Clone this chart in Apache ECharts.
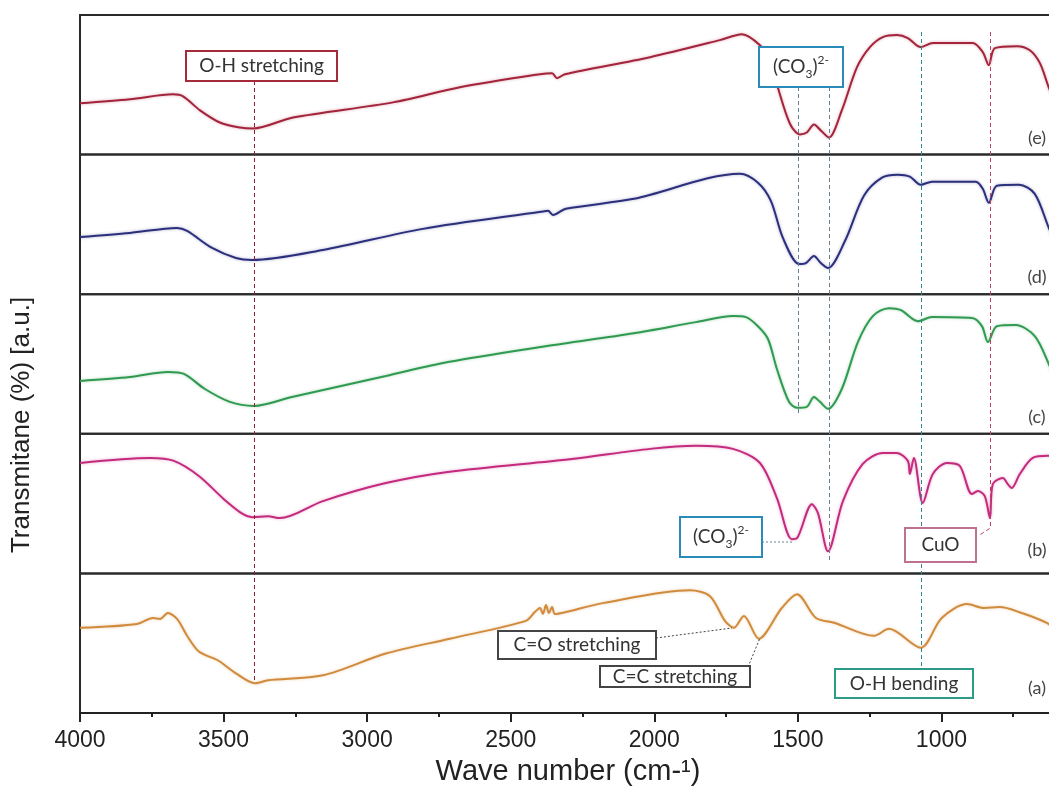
<!DOCTYPE html>
<html>
<head>
<meta charset="utf-8">
<script src="https://cdn.jsdelivr.net/npm/echarts@6/dist/echarts.min.js"></script>
<style>
  html, body { margin: 0; padding: 0; background: #fff; }
  #chart { width: 1049px; height: 803px; }
</style>
</head>
<body>
<div id="chart"></div>
<script>
// FTIR spectra, [wavenumber (cm-1), transmittance in panel units 0..100]
const specE = [[4000,36.7],[3826,39.6],[3676,43.2],[3641,41.7],[3582,31.7],[3513,23],[3443,19.4],[3398,18.7],[3258,26.6],[2910,37.4],[2677,48.2],[2398,57.6],[2356,58.3],[2339,54.7],[2311,57.6],[2015,69.8],[1772,82],[1695,86.3],[1632,78.4],[1597,67.6],[1570,48.2],[1528,22.3],[1493,14.4],[1469,15.8],[1444,21.6],[1420,17.3],[1392,12.2],[1347,31.7],[1294,62.6],[1249,77],[1204,84.2],[1155,85.6],[1117,83.5],[1072,77],[1030,79.9],[891,79.9],[856,73.4],[835,64],[814,76.3],[737,77.7],[692,74.8],[657,65.5],[626,48],[595,33]];
const specD = [[4000,41],[3826,43.9],[3662,47.5],[3627,45.3],[3540,33.1],[3457,25.9],[3401,24.5],[3154,31.7],[2806,46.8],[2395,59],[2370,59.7],[2353,56.8],[2308,61.2],[2071,68.3],[1702,86.3],[1639,79.9],[1594,66.9],[1552,40.3],[1496,21.6],[1472,22.3],[1444,27.3],[1420,22.3],[1395,18.7],[1336,38.1],[1270,70.5],[1207,83.5],[1152,85.6],[1110,84.2],[1072,78.4],[1033,80.6],[880,80.6],[856,75.5],[835,65.5],[807,77.7],[730,78.4],[675,71.9],[626,47.5],[605,38]];
const specC = [[4000,37.9],[3826,40.7],[3694,44.3],[3638,42.9],[3565,32.1],[3478,22.9],[3394,20],[3262,26.4],[2935,41.4],[2719,51.4],[2374,62.9],[2071,72.1],[1855,80],[1726,84.3],[1681,83.6],[1639,77.1],[1604,67.9],[1573,46.4],[1531,22.9],[1503,18.6],[1469,19.3],[1444,26.4],[1423,22.9],[1395,17.9],[1347,32.1],[1291,65.7],[1239,84.3],[1183,90],[1141,88.6],[1082,80.7],[1033,83.6],[894,82.9],[859,77.1],[838,65.7],[807,77.1],[741,77.9],[675,70],[626,50],[605,37.9]];
const specB = [[4000,79.1],[3756,82.7],[3673,80.6],[3586,69.8],[3499,53.2],[3432,42.4],[3401,40.3],[3345,41],[3304,39.6],[3154,51.8],[2935,64.7],[2719,72.7],[2287,82],[2015,89.2],[1855,91.4],[1726,89.2],[1632,79.1],[1573,54],[1521,24.5],[1503,25.2],[1451,49.6],[1430,43.2],[1395,15.8],[1343,51.8],[1274,78.4],[1204,86.3],[1155,86.3],[1117,80.6],[1110,71.2],[1096,82.7],[1065,50.4],[1030,71.2],[981,79.1],[936,77],[894,56.8],[873,59],[849,55.4],[831,39.6],[821,64],[786,68.3],[769,64],[755,61.2],[727,71.2],[682,82.7],[629,84.2],[605,84]];
const specA = [[4000,61],[3801,63.8],[3746,68.1],[3721,67.4],[3694,71.6],[3662,67.4],[3627,55.3],[3586,44],[3519,37.6],[3457,28.4],[3391,21.3],[3345,23.4],[3154,27],[2935,42.6],[2712,53.2],[2447,66],[2416,72.3],[2398,75.2],[2388,70.9],[2377,77.3],[2367,71.6],[2356,75.9],[2346,70.9],[2308,72.3],[2179,78.7],[1876,87.9],[1806,83.7],[1754,66],[1723,61],[1688,69.5],[1636,53.2],[1556,75.2],[1503,85.1],[1437,68.1],[1371,64.5],[1235,55.3],[1183,60.3],[1072,46.8],[999,68.1],[911,78],[852,75.2],[797,75.9],[720,71.6],[633,64.5],[605,60]];

const spectra = [specE, specD, specC, specB, specA];
const panelNames = ['(e)', '(d)', '(c)', '(b)', '(a)'];
const colors = ['#a3243b', '#2c2f7c', '#2f9a50', '#c42a7e', '#d08b3c'];

const chart = echarts.init(document.getElementById('chart'));

const grids = [], xAxes = [], yAxes = [], series = [];
const top0 = 15, panelH = 139.6;
for (let i = 0; i < 5; i++) {
  grids.push({
    left: 80, top: top0 + i * panelH, width: 1005, height: panelH,
    show: true, borderColor: '#2a2a2a', borderWidth: 2,
    outerBoundsMode: 'none'
  });
  const last = i === 4;
  xAxes.push({
    type: 'value', gridIndex: i, min: 500, max: 4000, interval: 500, inverse: true,
    show: last,
    axisLine: { show: true, onZero: false, lineStyle: { color: '#222', width: 2 } },
    axisTick: { show: true, length: 9, lineStyle: { color: '#222', width: 2 } },
    minorTick: { show: true, splitNumber: 2, length: 4, lineStyle: { color: '#222', width: 2 } },
    axisLabel: { show: last, fontSize: 23, color: '#222', margin: 16, fontFamily: 'Liberation Sans',
      formatter: v => String(v) },
    splitLine: { show: false },
    minorSplitLine: { show: false }
  });
  yAxes.push({ type: 'value', gridIndex: i, min: 0, max: 100, show: false, splitLine: { show: false } });
  series.push({
    type: 'line', xAxisIndex: i, yAxisIndex: i, data: spectra[i],
    showSymbol: false, symbol: 'none', silent: true, smooth: 0.3,
    lineStyle: { color: colors[i], width: 2, shadowColor: colors[i] + '66', shadowBlur: 3 }
  });
}

chart.setOption({
  animation: false,
  backgroundColor: '#fff',
  grid: grids,
  xAxis: xAxes,
  yAxis: yAxes,
  series: series
});

// annotations
const xAt = wn => chart.convertToPixel({ xAxisIndex: 4 }, wn);
const font = '19px Lato';
const g = [];

function dash(wn, y1, y2, color) {
  const x = Math.round(xAt(wn)) + 0.5;
  g.push({ type: 'line', z: 90, shape: { x1: x, y1: y1, x2: x, y2: y2 },
    style: { stroke: color, lineWidth: 1, lineDash: [4, 3] } });
}
function box(x1, y1, x2, y2, color, text, rich) {
  g.push({ type: 'rect', z: 100, shape: { x: x1, y: y1, width: x2 - x1, height: y2 - y1 },
    style: { fill: '#fff', stroke: color, lineWidth: 2 } });
  const st = { text: text, x: (x1 + x2) / 2, y: (y1 + y2) / 2, font: font, fill: '#333',
    align: 'center', verticalAlign: 'middle', textAlign: 'center', textVerticalAlign: 'middle' };
  if (rich) { st.rich = rich; }
  g.push({ type: 'text', z: 101, style: st });
}
function connector(points, color) {
  g.push({ type: 'polyline', z: 95, shape: { points: points },
    style: { stroke: color, lineWidth: 1, lineDash: [2, 2], fill: null } });
}

const co3Rich = {
  n: { fontSize: 19, fontFamily: 'Lato', lineHeight: 26, fill: '#333', verticalAlign: 'middle' },
  s: { fontSize: 12, fontFamily: 'Lato', fill: '#333', verticalAlign: 'bottom' },
  p: { fontSize: 12, fontFamily: 'Lato', fill: '#333', verticalAlign: 'top' }
};
const co3Text = '{n|(CO}{s|3}{n|)}{p|2-}';

// vertical guide lines
dash(3394, 81, 683, '#8b2030');
dash(1500, 87, 416, '#6a8090');
dash(1392, 87, 563, '#6a8090');
dash(1070, 32, 669, '#2a8a8a');
const xCuO = Math.round(xAt(831)) + 0.5;
g.push({ type: 'polyline', z: 90, shape: { points: [[xCuO, 32], [xCuO, 528], [978, 536]] },
  style: { stroke: '#c04060', lineWidth: 1, lineDash: [4, 3], fill: null } });

// label connectors
connector([[762, 542], [792, 542]], '#6a8090');
connector([[656, 638], [732, 628]], '#444');
connector([[748, 667], [760, 638]], '#444');

// boxes
box(186, 51, 337, 81, '#a52a3a', 'O-H stretching');
box(759, 47, 843, 87, '#2a8ab8', co3Text, co3Rich);
box(680, 517, 762, 557, '#2a8ab8', co3Text, co3Rich);
box(905, 528, 976, 562, '#c07090', 'CuO');
box(498, 631, 656, 659, '#444', 'C=O stretching');
box(600, 666, 750, 687, '#444', 'C=C stretching');
box(835, 669, 973, 698, '#2e9a88', 'O-H bending');

// panel tags
const tagY = [138, 277, 417, 550, 688];
for (let i = 0; i < 5; i++) {
  g.push({ type: 'text', z: 101, style: { text: panelNames[i], x: 1037, y: tagY[i], font: '18px Lato',
    fill: '#444', align: 'center', verticalAlign: 'middle', textAlign: 'center', textVerticalAlign: 'middle' } });
}

// axis titles
g.push({ type: 'text', z: 101, style: { text: 'Wave number (cm-¹)', x: 568, y: 772, font: '29px Liberation Sans',
  fill: '#222', align: 'center', verticalAlign: 'middle', textAlign: 'center', textVerticalAlign: 'middle' } });
g.push({ type: 'text', z: 101, x: 22, y: 425, rotation: Math.PI / 2,
  style: { text: 'Transmitane (%) [a.u.]', x: 0, y: 0, font: '26px Liberation Sans', fill: '#222',
    align: 'center', verticalAlign: 'middle', textAlign: 'center', textVerticalAlign: 'middle' } });

chart.setOption({ graphic: g });
</script>
</body>
</html>
